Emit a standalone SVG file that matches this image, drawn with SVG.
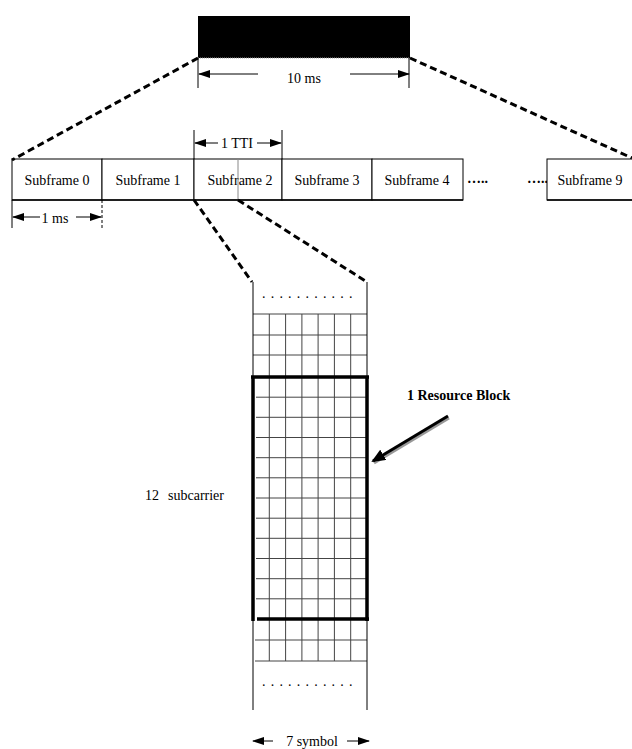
<svg xmlns="http://www.w3.org/2000/svg" width="632" height="749" viewBox="0 0 632 749">
<style>
text{font-family:"Liberation Serif","Times New Roman",serif;font-size:14px;fill:#000}
.mid{text-anchor:middle}
.box{fill:#fff;stroke:#000;stroke-width:1}
.thin{fill:none;stroke:#000;stroke-width:1}
.grid{fill:none;stroke:#444;stroke-width:1}
.thick{fill:none;stroke:#000;stroke-width:3.5}
.dash{fill:none;stroke:#000;stroke-width:3;stroke-dasharray:7 4}
.arr{fill:none;stroke:#000;stroke-width:1;marker-end:url(#ah)}
.arl{fill:none;stroke:#000;stroke-width:1;marker-start:url(#ahs)}
.dots{letter-spacing:5.2px}
</style>
<defs>
<marker id="ah" markerWidth="12" markerHeight="8" refX="11" refY="4" orient="auto" markerUnits="userSpaceOnUse"><path d="M0,0 L12,4 L0,8 z" fill="#000"/></marker>
<marker id="ahs" markerWidth="12" markerHeight="8" refX="1" refY="4" orient="auto" markerUnits="userSpaceOnUse"><path d="M12,0 L0,4 L12,8 z" fill="#000"/></marker>
<marker id="big" markerWidth="14" markerHeight="12" refX="12" refY="6" orient="auto" markerUnits="userSpaceOnUse"><path d="M0,0 L14,6 L0,12 z" fill="#000"/></marker>
</defs>
<rect width="632" height="749" fill="#fff"/>

<g id="radio-frame">
<rect x="198" y="16" width="212" height="42" fill="#000"/>
<line x1="198" y1="58" x2="410" y2="58" stroke="#999" stroke-width="1" stroke-dasharray="1 1"/>
</g>

<g id="subframes">
<rect class="box" x="12" y="159" width="90" height="41"/>
<text class="mid" x="57" y="185">Subframe 0</text>
<rect class="box" x="102" y="159" width="92" height="41"/>
<text class="mid" x="148" y="185">Subframe 1</text>
<rect class="box" x="194" y="159" width="88" height="41"/>
<text class="mid" x="240" y="185">Subframe 2</text>
<line x1="238" y1="159" x2="238" y2="200" stroke="#888" stroke-width="1"/>
<rect class="box" x="282" y="159" width="90" height="41"/>
<text class="mid" x="327" y="185">Subframe 3</text>
<rect class="box" x="372" y="159" width="91" height="41"/>
<text class="mid" x="417" y="185">Subframe 4</text>
<line x1="12" y1="200" x2="463" y2="200" stroke="#000" stroke-width="1.5"/>
<text x="467" y="183" font-weight="bold">…..</text>
<text x="527" y="183" font-weight="bold">…..</text>
<rect class="box" x="547" y="159" width="86" height="41"/>
<line x1="547" y1="200" x2="632" y2="200" stroke="#000" stroke-width="1.5"/>
<text class="mid" x="590" y="185">Subframe 9</text>
</g>

<g id="resource-grid">
<text class="dots" x="262" y="298">...........</text>
<path class="grid" d="M253 314H367M253 335H367M253 355H367
M269.3 314V377M285.6 314V377M301.9 314V377M318.1 314V377M334.4 314V377M350.7 314V377"/>
<path class="grid" d="M256 397.2H366M256 417.3H366M256 437.5H366M256 457.7H366M256 477.8H366M256 498H366M256 518.2H366M256 538.3H366M256 558.5H366M256 578.7H366M256 598.8H366
M269.3 377V619M285.6 377V619M301.9 377V619M318.1 377V619M334.4 377V619M350.7 377V619"/>
<path class="grid" d="M255 640H367M255 661H367
M269.3 619V661M285.6 619V661M301.9 619V661M318.1 619V661M334.4 619V661M350.7 619V661"/>
<path class="thin" d="M253 282V710M367 282V710"/>
<text class="dots" x="262" y="686">...........</text>
</g>

<g id="resource-block">
<path class="thick" d="M253 376V621M367 376V621M251 377H369M257 619H369"/>
<text x="407" y="400" font-weight="bold">1 Resource Block</text>
</g>

<g id="labels">
<text x="145" y="500">12</text>
<text x="168" y="500">subcarrier</text>
<text class="mid" x="304" y="83">10 ms</text>
<text class="mid" x="237" y="148">1 TTI</text>
<text class="mid" x="55" y="223">1 ms</text>
<text class="mid" x="312" y="746">7 symbol</text>
</g>

<g id="connectors">
<path class="dash" d="M198 58L12 160"/>
<path class="dash" d="M410 58L632 158"/>
<path class="dash" d="M194 200L252 282"/>
<path class="dash" d="M238 200L367 282"/>
<path class="thin" d="M198 58V88M409 58V88"/>
<path class="arl" d="M199 74H258"/>
<path class="arr" d="M350 74H409"/>
<path class="thin" d="M194 130V159M282 130V159"/>
<path class="arl" d="M195 143H218"/>
<path class="arr" d="M257 143H281"/>
<path class="thin" d="M12 200V228"/>
<path class="thin" d="M102 200V228" stroke-dasharray="3 2"/>
<path class="arl" d="M13 217H40"/>
<path class="arr" d="M76 217H101"/>
<path class="arl" d="M253 741H273"/>
<path class="arr" d="M347 741H369"/>
<path d="M449 418L374 463" stroke="#999" stroke-width="3" fill="none"/>
<path d="M448 416L373 461" stroke="#000" stroke-width="3" fill="none" marker-end="url(#big)"/>
</g>
</svg>
